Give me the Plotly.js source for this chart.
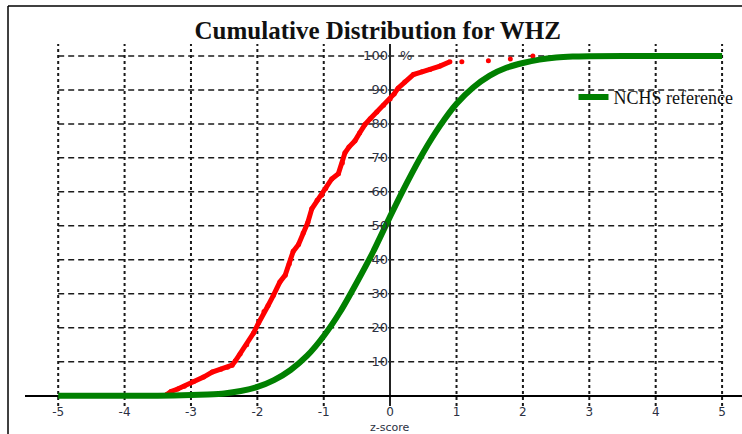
<!DOCTYPE html>
<html>
<head>
<meta charset="utf-8">
<script src="https://cdn.plot.ly/plotly-3.0.1.min.js"></script>
<style>
  html, body { margin: 0; padding: 0; background: #ffffff; }
  #chart { width: 742px; height: 434px; }
</style>
</head>
<body>
<div id="chart"></div>
<script>
// ---- Data ----
const chartTitle = "Cumulative Distribution for WHZ";
const xTickValues = [-5, -4, -3, -2, -1, 0, 1, 2, 3, 4, 5];
const yTickValues = [10, 20, 30, 40, 50, 60, 70, 80, 90, 100];

// Survey sample (red) empirical cumulative distribution
const sampleZ = [-3.37, -3.30, -3.20, -3.10, -2.96, -2.81, -2.68, -2.55, -2.45, -2.38,
                 -2.33, -2.26, -2.16, -2.06, -1.98, -1.90, -1.84, -1.76, -1.66, -1.58,
                 -1.52, -1.46, -1.38, -1.31, -1.24, -1.18, -1.10, -1.03, -0.97, -0.88,
                 -0.78, -0.72, -0.68, -0.62, -0.53, -0.46, -0.38, -0.30, -0.20, -0.10,
                  0.00, 0.06, 0.12, 0.22, 0.35, 0.48, 0.60, 0.75, 0.90,
                  null, 1.08, null, 1.48, null, 1.81, null, 2.15];
const samplePct = [0.3, 1.3, 2.0, 2.8, 4.2, 5.5, 7.0, 7.8, 8.4, 9.0,
                   10.3, 12.3, 15.0, 18.4, 21.5, 24.8, 26.5, 29.5, 33.5, 35.5,
                   38.8, 42.5, 44.5, 47.9, 51.0, 55.0, 57.5, 59.0, 61.0, 63.8,
                   65.3, 68.5, 71.5, 73.2, 75.0, 77.3, 79.8, 81.5, 83.5, 85.5,
                   87.3, 88.8, 90.5, 92.3, 94.5, 95.3, 96.0, 97.0, 98.3,
                   null, 98.3, null, 98.6, null, 99.1, null, 100.0];

// NCHS reference (green)
const refName = "NCHS reference";
const refZ = [-5, -4, -3.5, -3, -2.75, -2.5, -2.25, -2, -1.75, -1.5, -1.25, -1, -0.75, -0.5, -0.25,
              0, 0.25, 0.5, 0.75, 1, 1.25, 1.5, 1.75, 2, 2.25, 2.5, 2.75, 3, 4, 5];
const refPct = [0, 0, 0, 0.2, 0.4, 0.7, 1.4, 2.6, 4.6, 7.6, 11.8, 17.6, 24.8, 33.4, 42.6,
                52.8, 62.6, 71.6, 79.4, 85.9, 90.7, 94.2, 96.5, 97.9, 98.9, 99.5, 99.8, 99.9, 100, 100];

// ---- Layout constants ----
const X_RANGE = [-5.5, 5.3];
const Y_RANGE = [-3, 103.5];
const GRID_COLOR = "#1a1a1a";
const TICK_COLOR = "#2b3142";

const shapes = [];
// horizontal dashed grid lines
yTickValues.forEach(v => {
  shapes.push({type: "line", xref: "x", yref: "y",
    x0: xTickValues[0], x1: xTickValues[xTickValues.length - 1], y0: v, y1: v,
    line: {color: GRID_COLOR, width: 1.5, dash: "6px,4px"}, layer: "below"});
});
// vertical dotted grid lines
xTickValues.forEach(v => {
  if (v === 0) return;
  shapes.push({type: "line", xref: "x", yref: "y",
    x0: v, x1: v, y0: Y_RANGE[0], y1: Y_RANGE[1],
    line: {color: GRID_COLOR, width: 2, dash: "3px,3px"}, layer: "below"});
});
// page frame (left and top border of the captured figure)
shapes.push({type: "line", xref: "paper", yref: "paper", x0: -0.0237, x1: -0.0237, y0: 1.105, y1: -0.2,
  line: {color: "#000", width: 1.5}});
shapes.push({type: "line", xref: "paper", yref: "paper", x0: -0.0237, x1: 1.05, y0: 1.105, y1: 1.105,
  line: {color: "#000", width: 1.5}});

const traces = [
  {
    x: sampleZ, y: samplePct, type: "scatter", mode: "lines+markers",
    connectgaps: false, showlegend: false, name: "Sample",
    line: {color: "#ff0000", width: 5},
    marker: {color: "#ff0000", size: 5},
    hoverinfo: "skip"
  },
  {
    x: refZ, y: refPct, type: "scatter", mode: "lines", name: refName,
    line: {color: "#008000", width: 6, shape: "spline", smoothing: 0.6},
    hoverinfo: "skip"
  }
];

const layout = {
  width: 742, height: 434,
  margin: {l: 25, r: 0, t: 44, b: 28},
  paper_bgcolor: "#ffffff", plot_bgcolor: "#ffffff",
  showlegend: true,
  title: {
    text: "<b>" + chartTitle + "</b>",
    font: {family: "Liberation Serif, Times New Roman, serif", size: 25, color: "#111"},
    xref: "paper", x: 0.492, xanchor: "center",
    yref: "container", y: 0.931, yanchor: "middle"
  },
  xaxis: {
    range: X_RANGE, tickvals: xTickValues, ticktext: xTickValues.map(String),
    showgrid: false, zeroline: true, zerolinecolor: "#222", zerolinewidth: 1.5,
    showline: false, ticks: "", anchor: "free", position: 0.0276,
    ticklabelstandoff: 7,
    tickfont: {family: "DejaVu Sans, Verdana, sans-serif", size: 12, color: TICK_COLOR},
    fixedrange: true
  },
  yaxis: {
    range: Y_RANGE, tickvals: yTickValues, ticktext: yTickValues.map(String),
    showgrid: false, zeroline: true, zerolinecolor: "#000", zerolinewidth: 1.5,
    showline: false, ticks: "", anchor: "free", position: 0.509,
    ticklabelstandoff: 2,
    tickfont: {family: "DejaVu Sans, Verdana, sans-serif", size: 13, color: TICK_COLOR},
    fixedrange: true
  },
  legend: {
    x: 0.765, xanchor: "left", y: 0.853, yanchor: "middle",
    bgcolor: "rgba(0,0,0,0)", borderwidth: 0,
    font: {family: "Liberation Serif, Times New Roman, serif", size: 18, color: "#111"},
    itemwidth: 30
  },
  shapes: shapes,
  annotations: [
    {text: "%", xref: "x", yref: "y", x: 0.12, y: 100, showarrow: false,
     xanchor: "left", yanchor: "middle",
     font: {family: "DejaVu Sans, Verdana, sans-serif", size: 13, color: TICK_COLOR}},
    {text: "z-score", xref: "x", yref: "paper", x: 0, y: -0.059, showarrow: false,
     xanchor: "center", yanchor: "middle",
     font: {family: "DejaVu Sans, Verdana, sans-serif", size: 11, color: TICK_COLOR}}
  ]
};

Plotly.newPlot("chart", traces, layout, {displayModeBar: false, staticPlot: true});
</script>
</body>
</html>
